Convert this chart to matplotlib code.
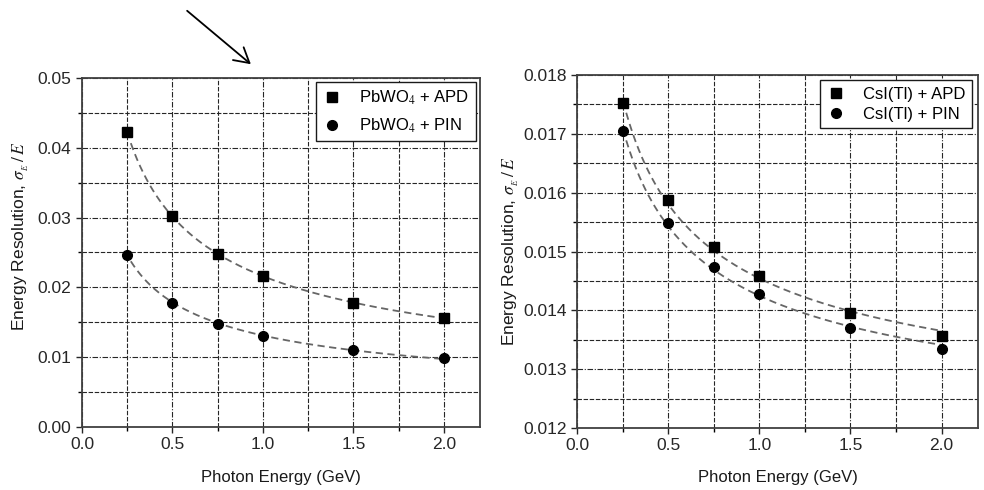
import matplotlib
matplotlib.use("Agg")
import matplotlib.pyplot as plt
import numpy as np
from matplotlib.ticker import MultipleLocator, FormatStrFormatter

plt.rcParams['font.family'] = ['Liberation Sans', 'DejaVu Sans']
plt.rcParams['mathtext.fontset'] = 'stix'

energy = [0.25, 0.5, 0.75, 1.0, 1.5, 2.0]

pbwo4_apd = [0.0422, 0.0302, 0.0248, 0.0216, 0.0178, 0.0156]
pbwo4_pin = [0.0247, 0.0178, 0.0148, 0.0130, 0.0110, 0.0099]

csi_apd = [0.01752, 0.01588, 0.01507, 0.01459, 0.01396, 0.01357]
csi_pin = [0.01705, 0.01549, 0.01474, 0.01428, 0.01370, 0.01335]

labels_left = [r'PbWO$_4$ + APD', r'PbWO$_4$ + PIN']
labels_right = ['CsI(Tl) + APD', 'CsI(Tl) + PIN']

major_grid = (0, (5, 1.5, 1, 1.5))
minor_grid = (0, (4, 1.5))


def fit_curve(e, res):
    # least squares fit of res = a/sqrt(E) + b, like the original fit lines
    e = np.asarray(e)
    a, b = np.polyfit(1 / np.sqrt(e), res, 1)
    ef = np.linspace(0.27, 2.0, 200)
    return ef, a / np.sqrt(ef) + b


def draw_panel(ax, apd, pin, labels, ylim, ymajor, yminor, yfmt,
               legend_anchor, legend_spacing, xlabel_pos, ylabel_pos):
    for series in (apd, pin):
        ef, rf = fit_curve(energy, series)
        ax.plot(ef, rf, color='0.4', ls=(0, (4, 2.5)), lw=1.3, zorder=2)
    ax.plot(energy, apd, ls='none', marker='s', ms=7, color='black', label=labels[0], zorder=3)
    ax.plot(energy, pin, ls='none', marker='o', ms=7, color='black', label=labels[1], zorder=3)

    ax.set_xlim(0, 2.2)
    ax.set_ylim(*ylim)
    ax.xaxis.set_major_locator(MultipleLocator(0.5))
    ax.xaxis.set_minor_locator(MultipleLocator(0.25))
    ax.yaxis.set_major_locator(MultipleLocator(ymajor))
    ax.yaxis.set_minor_locator(MultipleLocator(yminor))
    ax.xaxis.set_major_formatter(FormatStrFormatter('%.1f'))
    ax.yaxis.set_major_formatter(FormatStrFormatter(yfmt))

    ax.grid(which='major', color='0.15', ls=major_grid, lw=0.8)
    ax.grid(which='minor', color='0.15', ls=minor_grid, lw=0.8)
    ax.set_axisbelow(True)

    ax.tick_params(which='major', direction='out', length=4, width=1, labelsize=12.5, colors='0.15')
    ax.tick_params(which='minor', direction='out', length=3, width=1)
    for sp in ax.spines.values():
        sp.set_linewidth(1.3)
        sp.set_color('0.25')

    ax.set_xlabel('Photon Energy (GeV)', fontsize=12, color='0.1')
    ax.set_ylabel(r'Energy Resolution, $\sigma_{_E}\,/\,E$', fontsize=12.5, color='0.1')
    ax.xaxis.set_label_coords(*xlabel_pos)
    ax.yaxis.set_label_coords(*ylabel_pos)

    leg = ax.legend(loc='upper right', bbox_to_anchor=legend_anchor, fontsize=12,
                    fancybox=False, framealpha=1, edgecolor='0.1', borderaxespad=0,
                    handlelength=1.2, handletextpad=1.0, borderpad=0.4,
                    labelspacing=legend_spacing)
    leg.get_frame().set_linewidth(1.0)


fig = plt.figure(figsize=(9.84, 4.9), dpi=100)
ax1 = fig.add_axes([0.0833, 0.1286, 0.4045, 0.7122])
ax2 = fig.add_axes([0.5864, 0.1265, 0.4075, 0.7204])

draw_panel(ax1, pbwo4_apd, pbwo4_pin, labels_left, (0.0, 0.05), 0.01, 0.005, '%.2f',
           (0.99, 0.988), 0.55, (0.5, -0.123), (-0.128, 0.547))
draw_panel(ax2, csi_apd, csi_pin, labels_right, (0.012, 0.018), 0.001, 0.0005, '%.3f',
           (0.985, 0.986), 0.3, (0.5, -0.119), (-0.14, 0.499))

# pointer arrow above the left panel
fig.add_artist(matplotlib.patches.FancyArrowPatch(
    (185 / 984, 1 - 9 / 490), (253 / 984, 1 - 66 / 490),
    transform=fig.transFigure, arrowstyle='->,head_length=7,head_width=4',
    color='black', lw=1.3, mutation_scale=1.5))

fig.savefig('out.png', dpi=100)
